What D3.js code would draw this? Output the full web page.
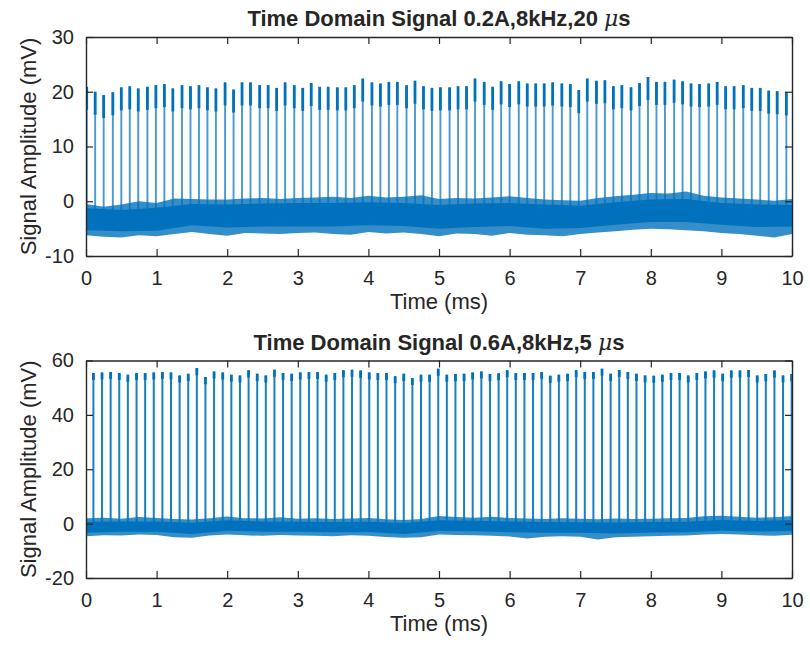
<!DOCTYPE html>
<html>
<head>
<meta charset="utf-8">
<script src="https://cdn.jsdelivr.net/npm/d3@7"></script>
<style>
  body { margin: 0; background: #fff; }
  svg { display: block; }
  text { font-family: Arial, "Liberation Sans", Helvetica, sans-serif; fill: #262626; }
</style>
</head>
<body>
<svg id="chart" width="810" height="649"></svg>
<script>
// ---- shared axis ticks ----
const xTicks = [0, 1, 2, 3, 4, 5, 6, 7, 8, 9, 10];
const yTicksA = [-10, 0, 10, 20, 30];
const yTicksB = [-20, 0, 20, 40, 60];

// ---- sample times for the noise floor (ms) ----
const coreTimes = [0, 0.5, 1, 1.5, 2, 2.5, 3, 3.5, 4, 4.5, 5, 5.5, 6, 6.5, 7, 7.5, 8, 8.5, 9, 9.5, 10];
const fringeTimes = [0, 0.25, 0.5, 0.75, 1, 1.25, 1.5, 1.75, 2, 2.25, 2.5, 2.75, 3, 3.25, 3.5, 3.75, 4, 4.25, 4.5, 4.75,
  5, 5.25, 5.5, 5.75, 6, 6.25, 6.5, 6.75, 7, 7.25, 7.5, 7.75, 8, 8.25, 8.5, 8.75, 9, 9.25, 9.5, 9.75, 10];

// ---- 0.2 A, 20 us pulses ----
const pulseTimesA = [0.01, 0.13, 0.25, 0.38, 0.50, 0.62, 0.74, 0.87, 0.99, 1.11, 1.23, 1.36, 1.48, 1.60, 1.72, 1.84,
  1.97, 2.09, 2.21, 2.33, 2.46, 2.58, 2.70, 2.82, 2.95, 3.07, 3.19, 3.31, 3.43, 3.56, 3.68, 3.80, 3.92, 4.05, 4.17,
  4.29, 4.41, 4.54, 4.66, 4.78, 4.90, 5.02, 5.15, 5.27, 5.39, 5.51, 5.64, 5.76, 5.88, 6.00, 6.13, 6.25, 6.37, 6.49,
  6.61, 6.74, 6.86, 6.98, 7.10, 7.23, 7.35, 7.47, 7.59, 7.72, 7.84, 7.96, 8.08, 8.20, 8.33, 8.45, 8.57, 8.69, 8.82,
  8.94, 9.06, 9.18, 9.31, 9.43, 9.55, 9.67, 9.79, 9.92];
const peaksA = [20.9, 20.0, 19.4, 19.9, 20.8, 21.0, 20.6, 20.9, 21.2, 21.4, 20.6, 21.2, 21.0, 21.2, 20.8, 20.6, 21.7,
  20.4, 21.7, 21.7, 21.2, 21.2, 20.7, 21.7, 21.2, 20.7, 21.6,
  20.9, 20.9, 20.8, 20.8, 21.2, 22.4, 21.7, 21.5, 21.8, 21.8, 21.2, 22.0, 21.0, 20.7, 20.8, 20.8, 21.0, 21.0, 22.4,
  21.8, 20.9, 21.9, 21.4, 21.9, 21.5, 21.5, 21.5, 21.7,
  21.5, 21.4, 20.3, 22.4, 22.0, 22.1, 21.0, 21.2, 20.8, 21.6, 22.7, 21.8, 21.8, 22.2, 21.9, 21.5, 21.4, 21.5, 21.8,
  21.0, 21.0, 21.2, 20.7, 20.7, 20.2, 20.1, 19.9];
// noise floor: dense core and sparse outer excursions (mV)
const coreHiA = [-1.3, -1.6, -1.2, -0.5, -0.6, -0.4, -0.3, -0.3, -0.2, -0.3, -0.7, -0.4, -0.3, -0.6, -0.8, -0.2, 0.3, 0.4, -0.3, -0.6, -0.7];
const coreLoA = [-5.3, -5.5, -5.4, -4.4, -4.8, -4.6, -4.6, -4.6, -4.4, -4.5, -5.0, -4.7, -4.5, -5.0, -4.9, -4.3, -3.8, -3.8, -4.3, -4.7, -4.6];
const fringeHiA = [-0.5, -1.0, -0.6, 0.0, -0.3, 0.5, 0.4, 0.3, 0.3, 0.5, 0.6, 0.4, 0.6, 0.7, 0.8, 0.6, 1.0, 0.7, 0.8, 1.1,
  0.4, 0.6, 0.5, 0.7, 0.9, 0.6, 0.3, 0.2, 0.1, 0.6, 0.9, 1.2, 1.5, 1.4, 1.8, 1.0, 0.7, 0.5, 0.3, 0.1, 0.4];
const fringeLoA = [-6.2, -6.5, -6.6, -6.2, -6.4, -6.0, -5.6, -6.0, -6.3, -5.8, -5.9, -6.0, -5.8, -5.7, -6.0, -6.1, -5.6, -5.9, -5.7, -6.0,
  -6.4, -5.9, -6.0, -6.3, -5.8, -6.1, -6.2, -6.4, -6.0, -5.7, -5.5, -5.2, -5.0, -5.1, -5.3, -5.5, -5.8, -6.0, -6.3, -6.6, -6.0];

// ---- 0.6 A, 5 us pulses ----
const pulseTimesB = [0.105, 0.227, 0.349, 0.471, 0.593, 0.716, 0.838, 0.960, 1.082, 1.204, 1.326, 1.448, 1.570, 1.692,
  1.814, 1.937, 2.059, 2.181, 2.303, 2.425, 2.547, 2.669, 2.791, 2.913, 3.035, 3.158, 3.280, 3.402, 3.524, 3.646,
  3.768, 3.890, 4.012, 4.134, 4.256, 4.379, 4.501, 4.623, 4.745, 4.867, 4.989, 5.111, 5.233, 5.355, 5.477, 5.600,
  5.722, 5.844, 5.966, 6.088, 6.210, 6.332, 6.454, 6.576, 6.698, 6.821, 6.943, 7.065, 7.187, 7.309, 7.431, 7.553,
  7.675, 7.797, 7.919, 8.042, 8.164, 8.286, 8.408, 8.530, 8.652, 8.774, 8.896, 9.018, 9.140, 9.263, 9.385, 9.507,
  9.629, 9.751, 9.873, 9.995];
const peaksB = [55.4, 55.6, 55.8, 55.4, 54.8, 55.4, 55.4, 55.6, 55.8, 55.6, 54.5, 55.1, 57.2, 53.9, 56.0, 55.6, 54.8,
  54.5, 56.4, 55.1, 54.5, 56.6, 55.4, 55.1, 55.6, 55.8, 55.8,
  54.8, 55.4, 56.4, 56.6, 56.3, 55.6, 55.4, 55.4, 54.2, 55.1, 53.6, 54.8, 54.8, 57.0, 54.8, 55.0, 55.1, 55.6, 56.0,
  55.0, 55.3, 56.4, 55.4, 55.4, 55.4, 55.8, 54.4, 54.8,
  55.1, 56.4, 55.8, 55.8, 57.0, 55.1, 56.5, 55.8, 55.1, 54.5, 54.4, 54.8, 55.4, 55.4, 54.5, 55.4, 56.0, 56.3, 55.1,
  56.3, 56.3, 56.5, 54.5, 55.0, 56.3, 54.5, 55.0];
const coreHiB = [0.7, 0.8, 0.8, 0.3, 1.2, 0.8, 0.7, 0.6, 0.7, 0.2, 1.2, 1.1, 0.8, 0.6, 0.5, 0.4, 0.6, 0.7, 1.3, 1.0, 1.3];
const coreLoB = [-3.4, -3.0, -3.0, -3.8, -2.6, -3.0, -3.0, -3.2, -3.1, -3.8, -2.7, -2.8, -3.2, -3.4, -3.4, -3.6, -3.3, -3.2, -2.6, -2.9, -2.7];
const fringeHiB = [2.0, 2.2, 1.8, 2.4, 2.1, 1.7, 1.5, 2.0, 2.6, 2.0, 1.9, 2.3, 1.8, 2.0, 1.7, 1.9, 2.1, 1.6, 1.3, 1.7,
  2.8, 2.4, 2.2, 2.5, 2.1, 1.9, 1.7, 2.0, 1.8, 1.6, 1.9, 1.7, 1.8, 2.0, 2.1, 2.7, 2.9, 2.5, 2.2, 2.3, 2.8];
const fringeLoB = [-4.6, -4.3, -4.4, -4.0, -4.2, -5.0, -5.2, -4.4, -4.0, -4.3, -4.5, -4.2, -4.4, -4.5, -4.6, -4.3, -4.5, -4.9, -5.2, -5.0,
  -4.0, -4.2, -4.3, -4.5, -4.7, -5.5, -4.8, -4.6, -4.8, -5.8, -5.0, -4.8, -4.6, -4.5, -4.4, -4.0, -3.8, -4.0, -4.3, -4.5, -4.1];

const panels = [
  { title: "Time Domain Signal 0.2A,8kHz,20", top: 37, bottom: 256, yDomain: [-10, 30], yTicks: yTicksA,
    times: pulseTimesA, peaks: peaksA, base: -2.5, capLen: 4.2, shaftWidth: 1.9, shaftOpacity: 0.72, capWidth: 2.8,
    coreHi: coreHiA, coreLo: coreLoA, fringeHi: fringeHiA, fringeLo: fringeLoA },
  { title: "Time Domain Signal 0.6A,8kHz,5", top: 360.5, bottom: 578, yDomain: [-20, 60], yTicks: yTicksB,
    times: pulseTimesB, peaks: peaksB, base: -1, capLen: 2.6, shaftWidth: 2, shaftOpacity: 0.9, capWidth: 2.8,
    coreHi: coreHiB, coreLo: coreLoB, fringeHi: fringeHiB, fringeLo: fringeLoB }
];

const LEFT = 86, RIGHT = 792;
const LINE = "#0072BD", AXIS = "#262626";
const svg = d3.select("#chart");
const plainNumber = d => String(d);   // hyphen-minus for negatives

panels.forEach((p, i) => {
  const x = d3.scaleLinear().domain([0, 10]).range([LEFT, RIGHT]);
  const y = d3.scaleLinear().domain(p.yDomain).range([p.bottom, p.top]);

  const clipId = "clip" + i;
  svg.append("clipPath").attr("id", clipId)
    .append("rect").attr("x", LEFT).attr("y", p.top).attr("width", RIGHT - LEFT).attr("height", p.bottom - p.top);

  const plot = svg.append("g").attr("clip-path", `url(#${clipId})`);

  // noise floor: sparse excursions, then the dense core
  const fringe = fringeTimes.map((t, k) => ({ t, lo: p.fringeLo[k], hi: p.fringeHi[k] }));
  const core = coreTimes.map((t, k) => ({ t, lo: p.coreLo[k], hi: p.coreHi[k] }));
  const area = d3.area().x(d => x(d.t)).y0(d => y(d.lo)).y1(d => y(d.hi));
  plot.append("path").datum(fringe).attr("d", area).attr("fill", LINE).attr("fill-opacity", 0.8);
  plot.append("path").datum(core).attr("d", area).attr("fill", LINE);

  // pulses
  const pulses = p.times.map((t, k) => ({ t, peak: p.peaks[k] }));
  plot.selectAll(".shaft").data(pulses).join("line")
    .attr("x1", d => x(d.t)).attr("x2", d => x(d.t))
    .attr("y1", y(p.base)).attr("y2", d => y(d.peak))
    .attr("stroke", LINE).attr("stroke-width", p.shaftWidth).attr("stroke-opacity", p.shaftOpacity);
  plot.selectAll(".cap").data(pulses).join("line")
    .attr("x1", d => x(d.t)).attr("x2", d => x(d.t))
    .attr("y1", d => y(d.peak - p.capLen)).attr("y2", d => y(d.peak))
    .attr("stroke", LINE).attr("stroke-width", p.capWidth);

  // axes with inward ticks on all four sides
  const styleAxis = g => {
    g.attr("font-size", null).attr("font-family", null);
    g.selectAll(".domain").attr("stroke", AXIS).attr("stroke-width", 1.4);
    g.selectAll(".tick line").attr("stroke", AXIS).attr("stroke-width", 1.2);
    g.selectAll(".tick text").attr("fill", AXIS).style("font-size", "20px");
  };
  svg.append("g").attr("transform", `translate(0,${p.bottom})`)
    .call(d3.axisBottom(x).tickValues(xTicks).tickSizeInner(-7).tickSizeOuter(0).tickPadding(15).tickFormat(plainNumber))
    .call(styleAxis);
  svg.append("g").attr("transform", `translate(0,${p.top})`)
    .call(d3.axisTop(x).tickValues(xTicks).tickSizeInner(-7).tickSizeOuter(0).tickFormat(""))
    .call(styleAxis);
  svg.append("g").attr("transform", `translate(${LEFT},0)`)
    .call(d3.axisLeft(y).tickValues(p.yTicks).tickSizeInner(-7).tickSizeOuter(0).tickPadding(12).tickFormat(plainNumber))
    .call(styleAxis);
  svg.append("g").attr("transform", `translate(${RIGHT},0)`)
    .call(d3.axisRight(y).tickValues(p.yTicks).tickSizeInner(-7).tickSizeOuter(0).tickFormat(""))
    .call(styleAxis);

  // title
  const title = svg.append("text")
    .attr("x", (LEFT + RIGHT) / 2).attr("y", p.top - 11)
    .attr("text-anchor", "middle").style("font-size", "22px").style("font-weight", "bold");
  title.append("tspan").text(p.title + " ");
  title.append("tspan").text("μ").style("font-style", "italic").style("font-weight", "normal")
    .style("font-family", "'DejaVu Serif', serif");
  title.append("tspan").text("s");

  // axis labels
  svg.append("text")
    .attr("x", (LEFT + RIGHT) / 2).attr("y", p.bottom + 53)
    .attr("text-anchor", "middle").style("font-size", "22px")
    .text("Time (ms)");
  svg.append("text")
    .attr("transform", `translate(36,${(p.top + p.bottom) / 2}) rotate(-90)`)
    .attr("text-anchor", "middle").style("font-size", "22px")
    .text("Signal Amplitude (mV)");
});
</script>
</body>
</html>
